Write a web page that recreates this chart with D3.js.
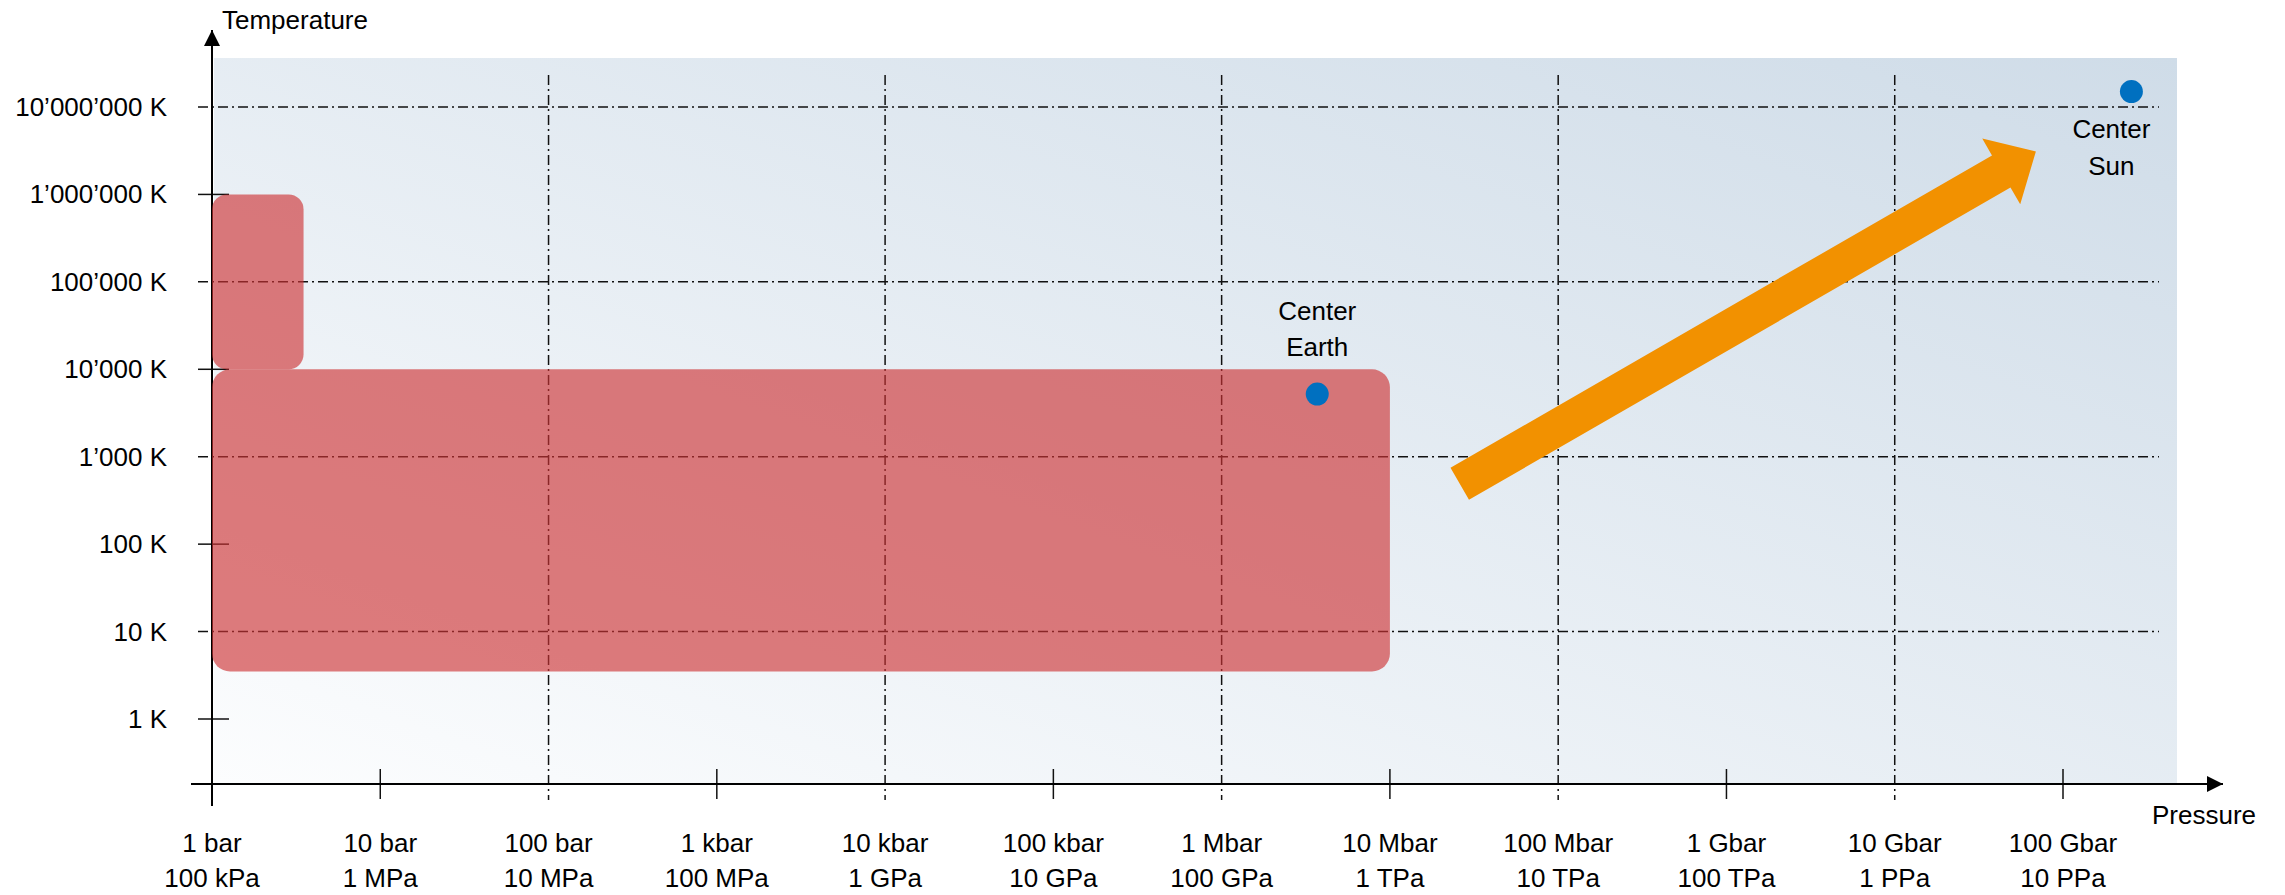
<!DOCTYPE html>
<html>
<head>
<meta charset="utf-8">
<script src="https://cdn.jsdelivr.net/npm/d3@7"></script>
<style>
  body { margin: 0; background: #fff; }
  svg { display: block; font-family: "Liberation Sans", Arial, sans-serif; }
</style>
</head>
<body>
<svg id="chart" width="2285" height="895"></svg>
<script>
// pressure ticks in bar, with two label lines
var pressureTicks = [1, 1e1, 1e2, 1e3, 1e4, 1e5, 1e6, 1e7, 1e8, 1e9, 1e10, 1e11]
var pressureBar = ["1 bar", "10 bar", "100 bar", "1 kbar", "10 kbar", "100 kbar", "1 Mbar", "10 Mbar", "100 Mbar", "1 Gbar", "10 Gbar", "100 Gbar"]
var pressurePa = ["100 kPa", "1 MPa", "10 MPa", "100 MPa", "1 GPa", "10 GPa", "100 GPa", "1 TPa", "10 TPa", "100 TPa", "1 PPa", "10 PPa"]
var pressureGrid = [1e2, 1e4, 1e6, 1e8, 1e10]

var tempTicks = [1, 10, 100, 1e3, 1e4, 1e5, 1e6, 1e7]
var tempLabels = ["1 K", "10 K", "100 K", "1\u2019000 K", "10\u2019000 K", "100\u2019000 K", "1\u2019000\u2019000 K", "10\u2019000\u2019000 K"]
var tempGrid = [10, 1e3, 1e5, 1e7]

// regions: [pMin, pMax, tMin, tMax]
var regions = [
    [1, 1e7, 3.5, 1e4],
    [1, 3.5, 1e4, 1e6]
]
// points: pressure (bar), temperature (K)
var points = [
    {name: ["Center", "Earth"], p: 3.7e6, t: 5200, dx: 0, dy: [-83, -47]},
    {name: ["Center", "Sun"], p: 2.55e11, t: 1.5e7, dx: -20, dy: [37, 74]}
]
// arrow from / to: pressure (bar), temperature (K)
var arrowFrom = [2.6e7, 490]
var arrowTo = [6.9e10, 3.1e6]

var svg = d3.select("#chart")
var fontSize = 26

var x = d3.scaleLog().domain([1, 1e11]).range([212, 2063])
var y = d3.scaleLog().domain([1, 1e7]).range([719, 107])
var axisY = 784
var x0 = x(1)

// background gradient
var defs = svg.append("defs")
var grad = defs.append("linearGradient").attr("id", "bg")
    .attr("x1", "0%").attr("y1", "100%").attr("x2", "100%").attr("y2", "0%")
grad.append("stop").attr("offset", "0%").attr("stop-color", "#fcfdfe")
grad.append("stop").attr("offset", "100%").attr("stop-color", "#cfdce8")

svg.append("rect")
    .attr("x", x0 + 2).attr("y", 58)
    .attr("width", 2177 - x0 - 2).attr("height", axisY - 58)
    .attr("fill", "url(#bg)")

// grid lines
var dash = "10,4,2,4"
svg.selectAll(".hgrid").data(tempGrid).enter()
    .append("line").attr("class", "hgrid")
    .attr("x1", 198).attr("x2", 2159)
    .attr("y1", function(d) { return y(d) }).attr("y2", function(d) { return y(d) })
    .attr("stroke", "#111").attr("stroke-width", 1.5).attr("stroke-dasharray", dash)

svg.selectAll(".vgrid").data(pressureGrid).enter()
    .append("line").attr("class", "vgrid")
    .attr("x1", function(d) { return x(d) }).attr("x2", function(d) { return x(d) })
    .attr("y1", 75).attr("y2", 800)
    .attr("stroke", "#111").attr("stroke-width", 1.5).attr("stroke-dasharray", dash)

// short ticks
svg.selectAll(".ytick").data(tempTicks.filter(function(d) { return tempGrid.indexOf(d) < 0 })).enter()
    .append("line").attr("class", "ytick")
    .attr("x1", 198).attr("x2", 229)
    .attr("y1", function(d) { return y(d) }).attr("y2", function(d) { return y(d) })
    .attr("stroke", "#111").attr("stroke-width", 1.5)

svg.selectAll(".xtick").data(pressureTicks.filter(function(d) { return pressureGrid.indexOf(d) < 0 })).enter()
    .append("line").attr("class", "xtick")
    .attr("x1", function(d) { return x(d) }).attr("x2", function(d) { return x(d) })
    .attr("y1", 769).attr("y2", 799)
    .attr("stroke", "#111").attr("stroke-width", 1.5)

// axes with arrow heads
defs.append("marker").attr("id", "tip")
    .attr("viewBox", "0 0 10 10").attr("refX", 10).attr("refY", 5)
    .attr("markerWidth", 16).attr("markerHeight", 16)
    .attr("markerUnits", "userSpaceOnUse")
    .attr("orient", "auto")
    .append("path").attr("d", "M0,0L10,5L0,10Z").attr("fill", "#000")

svg.append("line")
    .attr("x1", 191).attr("x2", 2223).attr("y1", axisY).attr("y2", axisY)
    .attr("stroke", "#000").attr("stroke-width", 2).attr("marker-end", "url(#tip)")
svg.append("line")
    .attr("x1", x0).attr("x2", x0).attr("y1", 806).attr("y2", 30)
    .attr("stroke", "#000").attr("stroke-width", 2).attr("marker-end", "url(#tip)")

// regions
svg.selectAll(".region").data(regions).enter()
    .append("rect").attr("class", "region")
    .attr("x", function(d) { return x(d[0]) })
    .attr("y", function(d) { return y(d[3]) })
    .attr("width", function(d) { return x(d[1]) - x(d[0]) })
    .attr("height", function(d) { return y(d[2]) - y(d[3]) })
    .attr("rx", function(d, i) { return i == 0 ? 18 : 15 })
    .attr("fill", "rgb(205,50,52)").attr("opacity", 0.64)

// arrow
var ax0 = x(arrowFrom[0]), ay0 = y(arrowFrom[1])
var ax1 = x(arrowTo[0]), ay1 = y(arrowTo[1])
var len = Math.hypot(ax1 - ax0, ay1 - ay0)
var ang = Math.atan2(ay1 - ay0, ax1 - ax0) * 180 / Math.PI
var shaft = 18.5, head = 38, headLen = 40
svg.append("path")
    .attr("transform", "translate(" + ax0 + "," + ay0 + ") rotate(" + ang + ")")
    .attr("d", "M0," + (-shaft) + "L" + (len - headLen) + "," + (-shaft) +
        "L" + (len - headLen) + "," + (-head) + "L" + len + ",0L" + (len - headLen) + "," + head +
        "L" + (len - headLen) + "," + shaft + "L0," + shaft + "Z")
    .attr("fill", "#f29100")

// points
svg.selectAll(".pt").data(points).enter()
    .append("circle").attr("class", "pt")
    .attr("cx", function(d) { return x(d.p) })
    .attr("cy", function(d) { return y(d.t) })
    .attr("r", 11.5).attr("fill", "#0070c0")

points.forEach(function(d) {
    d.name.forEach(function(s, i) {
        svg.append("text")
            .attr("x", x(d.p) + d.dx).attr("y", y(d.t) + d.dy[i])
            .attr("text-anchor", "middle").attr("dominant-baseline", "central")
            .attr("font-size", fontSize).attr("fill", "#000").text(s)
    })
})

// tick labels
svg.selectAll(".ylab").data(tempTicks).enter()
    .append("text").attr("class", "ylab")
    .attr("x", 167).attr("y", function(d) { return y(d) })
    .attr("text-anchor", "end").attr("dominant-baseline", "central")
    .attr("font-size", fontSize).text(function(d, i) { return tempLabels[i] })

svg.selectAll(".xlab1").data(pressureTicks).enter()
    .append("text").attr("class", "xlab1")
    .attr("x", function(d) { return x(d) }).attr("y", 843)
    .attr("text-anchor", "middle").attr("dominant-baseline", "central")
    .attr("font-size", fontSize).text(function(d, i) { return pressureBar[i] })

svg.selectAll(".xlab2").data(pressureTicks).enter()
    .append("text").attr("class", "xlab2")
    .attr("x", function(d) { return x(d) }).attr("y", 878)
    .attr("text-anchor", "middle").attr("dominant-baseline", "central")
    .attr("font-size", fontSize).text(function(d, i) { return pressurePa[i] })

// axis titles
svg.append("text").attr("x", 222).attr("y", 20)
    .attr("dominant-baseline", "central").attr("font-size", fontSize).text("Temperature")
svg.append("text").attr("x", 2152).attr("y", 815)
    .attr("dominant-baseline", "central").attr("font-size", fontSize).text("Pressure")
</script>
</body>
</html>
